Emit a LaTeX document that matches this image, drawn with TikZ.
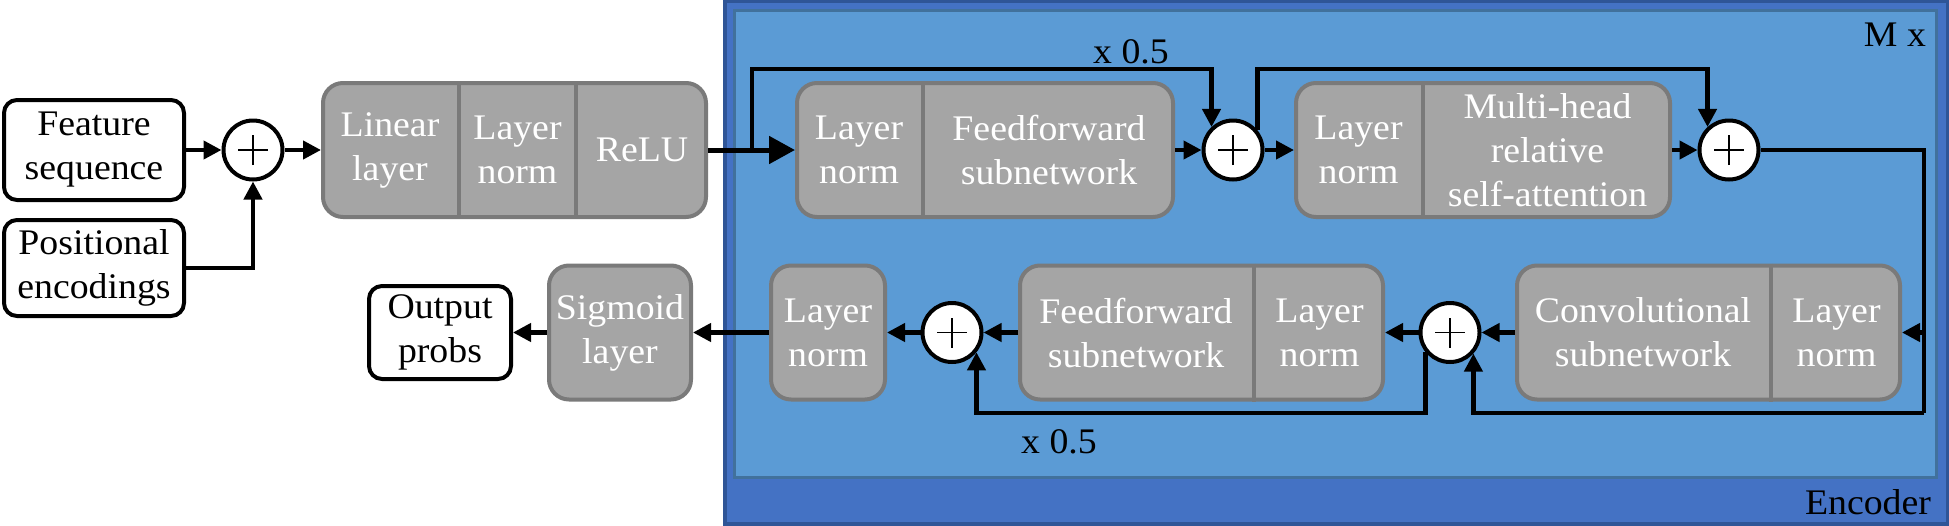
\documentclass[tikz,border=0pt]{standalone}
\usepackage{fontspec}
\setmainfont{Liberation Serif}[FakeStretch=1.05]
\usetikzlibrary{arrows.meta,calc}
\definecolor{gfill}{HTML}{A5A5A5}
\definecolor{gborder}{HTML}{7A7A7A}
\definecolor{encfill}{HTML}{4472C4}
\definecolor{encborder}{HTML}{2F5597}
\definecolor{blkfill}{HTML}{5B9BD5}
\definecolor{blkborder}{HTML}{41719C}
\begin{document}
\begin{tikzpicture}[x=0.5pt,y=-0.5pt,font=\fontsize{18}{22}\selectfont,
  ln/.style={line width=2.1pt},
  arr/.style={line width=2.1pt,-{Triangle[length=9pt,width=9pt]}},
  bigarr/.style={line width=2.5pt,-{Triangle[length=13pt,width=13.5pt]}},
  wbox/.style={draw,line width=2pt,fill=white,rounded corners=6.5pt,align=center,inner sep=0pt},
  gblock/.style={draw=gborder,line width=2pt,fill=gfill,rounded corners=10pt,inner sep=0pt,text=white,align=center,minimum height=67pt},
  gdiv/.style={draw=gborder,line width=2pt},
  gtxt/.style={text=white,align=center,inner sep=0pt},
  sumnode/.style={circle,draw,line width=2pt,fill=white,minimum size=29.5pt,inner sep=0pt,
    path picture={\draw[line width=0.8pt] (path picture bounding box.center) +(-7.5pt,0pt) -- +(7.5pt,0pt)
      (path picture bounding box.center) +(0pt,-7.5pt) -- +(0pt,7.5pt);}},
  encbox/.style={draw=encborder,fill=encfill,line width=2pt,inner sep=0pt},
  blkbox/.style={draw=blkborder,fill=blkfill,line width=1.5pt,inner sep=0pt}
]
\useasboundingbox (0,0) rectangle (1949,525);
\fill[white] (0,0) rectangle (1949,525);

% encoder frames
\node[encbox,minimum width=611.5pt,minimum height=261.5pt] (enc) at (1336.5,262.5) {};
\node[blkbox,minimum width=601pt,minimum height=233.5pt] (blk) at (1335.5,243.5) {};
\node[anchor=east] (mx) at (1933,35) {M x};
\node[anchor=east] (encl) at (1938,502) {Encoder};

% inputs
\node[wbox,minimum width=90pt,minimum height=50pt] (feat) at (94,150) {Feature\\sequence};
\node[wbox,minimum width=90pt,minimum height=48pt] (pos) at (94,268) {Positional\\encodings};
\node[sumnode] (s1) at (253,150) {};

% block 1
\node[gblock,minimum width=191.5pt] (b1) at (514.5,150) {};
\draw[gdiv] (459,0 |- b1.north) -- (459,0 |- b1.south);
\draw[gdiv] (576,0 |- b1.north) -- (576,0 |- b1.south);
\node[gtxt] (b1a) at (390,150) {Linear\\layer};
\node[gtxt] (b1b) at (517.5,150) {Layer\\norm};
\node[gtxt] (b1c) at (642,150) {ReLU};

% block 2
\node[gblock,minimum width=188pt] (b2) at (985,150) {};
\draw[gdiv] (923,0 |- b2.north) -- (923,0 |- b2.south);
\node[gtxt] (b2a) at (859,150) {Layer\\norm};
\node[gtxt] (b2b) at (1049,150) {Feedforward\\subnetwork};
\node[sumnode] (s2) at (1233,150) {};

% block 3
\node[gblock,minimum width=187pt] (b3) at (1483,150) {};
\draw[gdiv] (1423,0 |- b3.north) -- (1423,0 |- b3.south);
\node[gtxt] (b3a) at (1358.5,150) {Layer\\norm};
\node[gtxt] (b3b) at (1547.5,150) {Multi-head\\relative\\self-attention};
\node[sumnode] (s3) at (1729,150) {};

% block 6
\node[gblock,minimum width=191.5pt] (b6) at (1708.5,332.5) {};
\draw[gdiv] (1771,0 |- b6.north) -- (1771,0 |- b6.south);
\node[gtxt] (b6a) at (1643,332.5) {Convolutional\\subnetwork};
\node[gtxt] (b6b) at (1836.5,332.5) {Layer\\norm};
\node[sumnode] (s5) at (1450,332.5) {};

% block 5
\node[gblock,minimum width=181.5pt] (b5) at (1201.5,332.5) {};
\draw[gdiv] (1254,0 |- b5.north) -- (1254,0 |- b5.south);
\node[gtxt] (b5a) at (1136,332.5) {Feedforward\\subnetwork};
\node[gtxt] (b5b) at (1319.5,332.5) {Layer\\norm};
\node[sumnode] (s4) at (952,332.5) {};

% final layers
\node[gblock,minimum width=57pt] (bln) at (828,332.5) {Layer\\norm};
\node[gblock,minimum width=71pt] (sig) at (620,332.5) {Sigmoid\\layer};
\node[wbox,minimum width=71pt,minimum height=46.5pt] (out) at (440,332.5) {Output\\probs};

% labels
\node (xa) at (1131,52) {x 0.5};
\node (xb) at (1059,442) {x 0.5};

% coordinates
\coordinate (j1) at (752,150);
\coordinate (t1) at (752,69);
\coordinate (r1) at (1924,150);
\coordinate (r2) at (1924,413);

% connectors
\draw[arr] (feat.east) -- (s1.west);
\draw[arr] (pos.east) -| (s1.south);
\draw[arr] (s1.east) -- (b1.west);
\draw[bigarr] (b1.east) -- (b2.west);
\draw[arr] (j1) -- (t1) -| (s2.133);
\draw[arr] (b2.east) -- (s2.west);
\draw[arr] (s2.east) -- (b3.west);
\draw[arr] (s2.39) -- (s2.39 |- t1) -| (s3.133);
\draw[arr] (b3.east) -- (s3.west);
\draw[ln] (s3.east) -- (r1) -- (r2);
\draw[arr] (r2) -| (s5.318);
\draw[arr] (r1 |- b6) -- (b6.east);
\draw[arr] (b6.west) -- (s5.east);
\draw[arr] (s5.west) -- (b5.east);
\draw[arr] (s5.219) -- (s5.219 |- r2) -| (s4.321);
\draw[arr] (b5.west) -- (s4.east);
\draw[arr] (s4.west) -- (bln.east);
\draw[arr] (bln.west) -- (sig.east);
\draw[arr] (sig.west) -- (out.east);
\end{tikzpicture}
\end{document}
